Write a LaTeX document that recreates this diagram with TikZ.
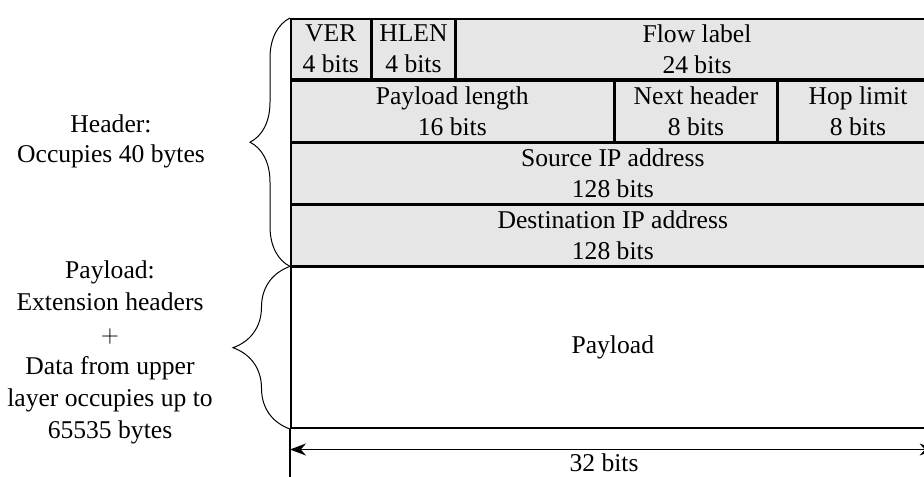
\documentclass[tikz,border=0pt]{standalone}
\usepackage{fontspec}
\setmainfont{Liberation Serif}
\usepackage{tikz}
\usetikzlibrary{positioning, arrows.meta}
\usetikzlibrary{decorations.pathreplacing}
\definecolor{fieldgray}{HTML}{E6E6E6}

\begin{document}
\begin{tikzpicture}[x=0.5pt, y=-0.5pt,
				font=\fontsize{12.8}{15.5}\selectfont,
				field/.style={draw, fill=fieldgray, line width=0.8pt, inner sep=0pt, align=center, anchor=north west, minimum height=30.25pt},
				sidebrace/.style={decorate, decoration={brace, amplitude=#1}, line width=0.5pt}]
				\useasboundingbox (0,0) rectangle (924,476);
				
				\node[field, minimum width=40pt] (ver) at (290,18) {VER\\4 bits};
				\node[field, minimum width=41pt, right=0pt of ver] (hlen) {HLEN\\4 bits};
				\node[field, minimum width=241pt, right=0pt of hlen] (flow) {Flow label\\24 bits};
				
				\node[field, minimum width=161.5pt] (plen) at (ver.south west) {Payload length\\16 bits};
				\node[field, minimum width=80.5pt, right=0pt of plen] (nexth) {Next header\\8 bits};
				\node[field, minimum width=80pt, right=0pt of nexth] (hop) {Hop limit\\8 bits};
				
				\node[field, minimum width=322pt] (src) at (plen.south west) {Source IP address\\128 bits};
				\node[field, minimum width=322pt] (dst) at (src.south west) {Destination IP address\\128 bits};
				\node[field, fill=white, minimum width=322pt, minimum height=80.5pt] (payload) at (dst.south west) {Payload};
				
				% braces and their texts
				\draw[sidebrace=20pt] (dst.south west) -- (ver.north west);
				\draw[sidebrace=28.5pt] (payload.south west) -- (payload.north west);
				\node[align=center, font=\fontsize{12.8}{15}\selectfont] (headtxt) at (111,141) {Header:\\Occupies 40 bytes};
				\node[align=center, font=\fontsize{12.8}{16}\selectfont] (paytxt) at (110,352) {Payload:\\Extension headers\\$+$\\Data from upper\\layer occupies up to\\65535 bytes};
				
				% width of the frame
				\coordinate[below=27.5pt of payload.south west] (extL);
				\coordinate[below=27.5pt of payload.south east] (extR);
				\coordinate[below=10.25pt of payload.south west] (dimL);
				\coordinate[below=10.25pt of payload.south east] (dimR);
				\draw[line width=0.6pt] (payload.south west) -- (extL);
				\draw[line width=0.6pt] (payload.south east) -- (extR);
				\draw[line width=0.8pt, {Stealth[length=8pt, width=6pt]}-{Stealth[length=8pt, width=6pt]}] (dimL) -- (dimR);
				\node (width) at (604,463) {32 bits};
			\end{tikzpicture}
\end{document}
